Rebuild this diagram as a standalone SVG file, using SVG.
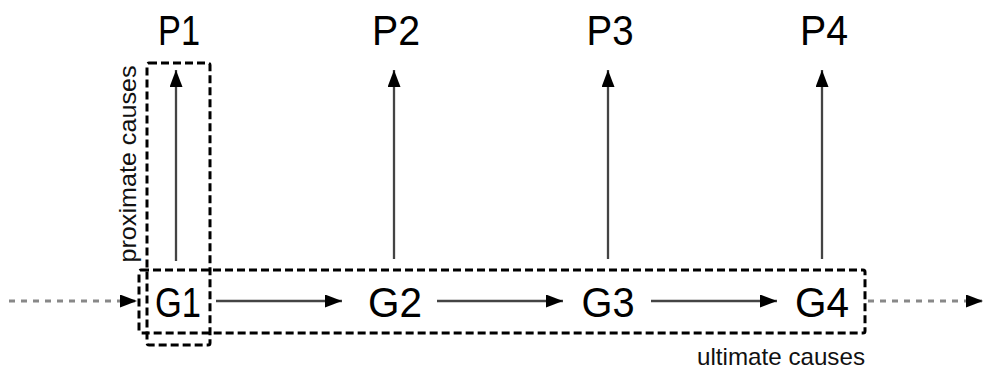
<svg xmlns="http://www.w3.org/2000/svg" width="985" height="370" viewBox="0 0 985 370">
<style>
.lbl{font-family:"Liberation Sans",Arial,sans-serif;font-size:42px;fill:#000;text-anchor:middle}
.cap{font-family:"Liberation Sans",Arial,sans-serif;font-size:24px;fill:#111}
.box{fill:none;stroke:#000;stroke-width:3;stroke-dasharray:8 4}
.arr{fill:none;stroke:#444;stroke-width:2.3;marker-end:url(#ah)}
.dash{fill:none;stroke:#888;stroke-width:3;stroke-dasharray:6 6;marker-end:url(#ah)}
</style>
<defs>
<marker id="ah" markerUnits="userSpaceOnUse" markerWidth="18" markerHeight="14" refX="17" refY="6.5" orient="auto">
<path d="M0,0 L17,6.5 L0,13 z" fill="#000"/>
</marker>
</defs>
<rect width="985" height="370" fill="#fff"/>
<g id="groups">
<rect id="proximate-box" class="box" x="147" y="63" width="63" height="282" rx="2"/>
<rect id="ultimate-box" class="box" x="139" y="270" width="726" height="63" rx="2"/>
<text class="cap" transform="translate(136,164) rotate(-90)" text-anchor="middle" textLength="197" lengthAdjust="spacingAndGlyphs">proximate causes</text>
<text class="cap" x="697" y="365" textLength="168" lengthAdjust="spacingAndGlyphs">ultimate causes</text>
</g>
<g id="P1"><text class="lbl" x="179" y="45" textLength="42" lengthAdjust="spacingAndGlyphs">P1</text></g>
<g id="P2"><text class="lbl" x="396" y="45" textLength="48" lengthAdjust="spacingAndGlyphs">P2</text></g>
<g id="P3"><text class="lbl" x="610" y="45" textLength="47" lengthAdjust="spacingAndGlyphs">P3</text></g>
<g id="P4"><text class="lbl" x="824" y="45" textLength="48" lengthAdjust="spacingAndGlyphs">P4</text></g>
<g id="G1"><text class="lbl" x="178" y="317" textLength="46" lengthAdjust="spacingAndGlyphs">G1</text></g>
<g id="G2"><text class="lbl" x="395" y="317" textLength="54" lengthAdjust="spacingAndGlyphs">G2</text></g>
<g id="G3"><text class="lbl" x="608" y="317" textLength="53" lengthAdjust="spacingAndGlyphs">G3</text></g>
<g id="G4"><text class="lbl" x="822" y="317" textLength="54" lengthAdjust="spacingAndGlyphs">G4</text></g>
<g id="connectors">
<line class="arr" x1="176" y1="261" x2="176" y2="70"/>
<line class="arr" x1="394" y1="259" x2="394" y2="70"/>
<line class="arr" x1="608" y1="259" x2="608" y2="70"/>
<line class="arr" x1="822" y1="259" x2="822" y2="70"/>
<line class="arr" x1="216" y1="301" x2="342" y2="301"/>
<line class="arr" x1="437" y1="301" x2="563" y2="301"/>
<line class="arr" x1="651" y1="301" x2="777" y2="301"/>
<line class="dash" x1="9" y1="301" x2="137" y2="301"/>
<line class="dash" x1="868" y1="301" x2="983" y2="301"/>
</g>
</svg>
